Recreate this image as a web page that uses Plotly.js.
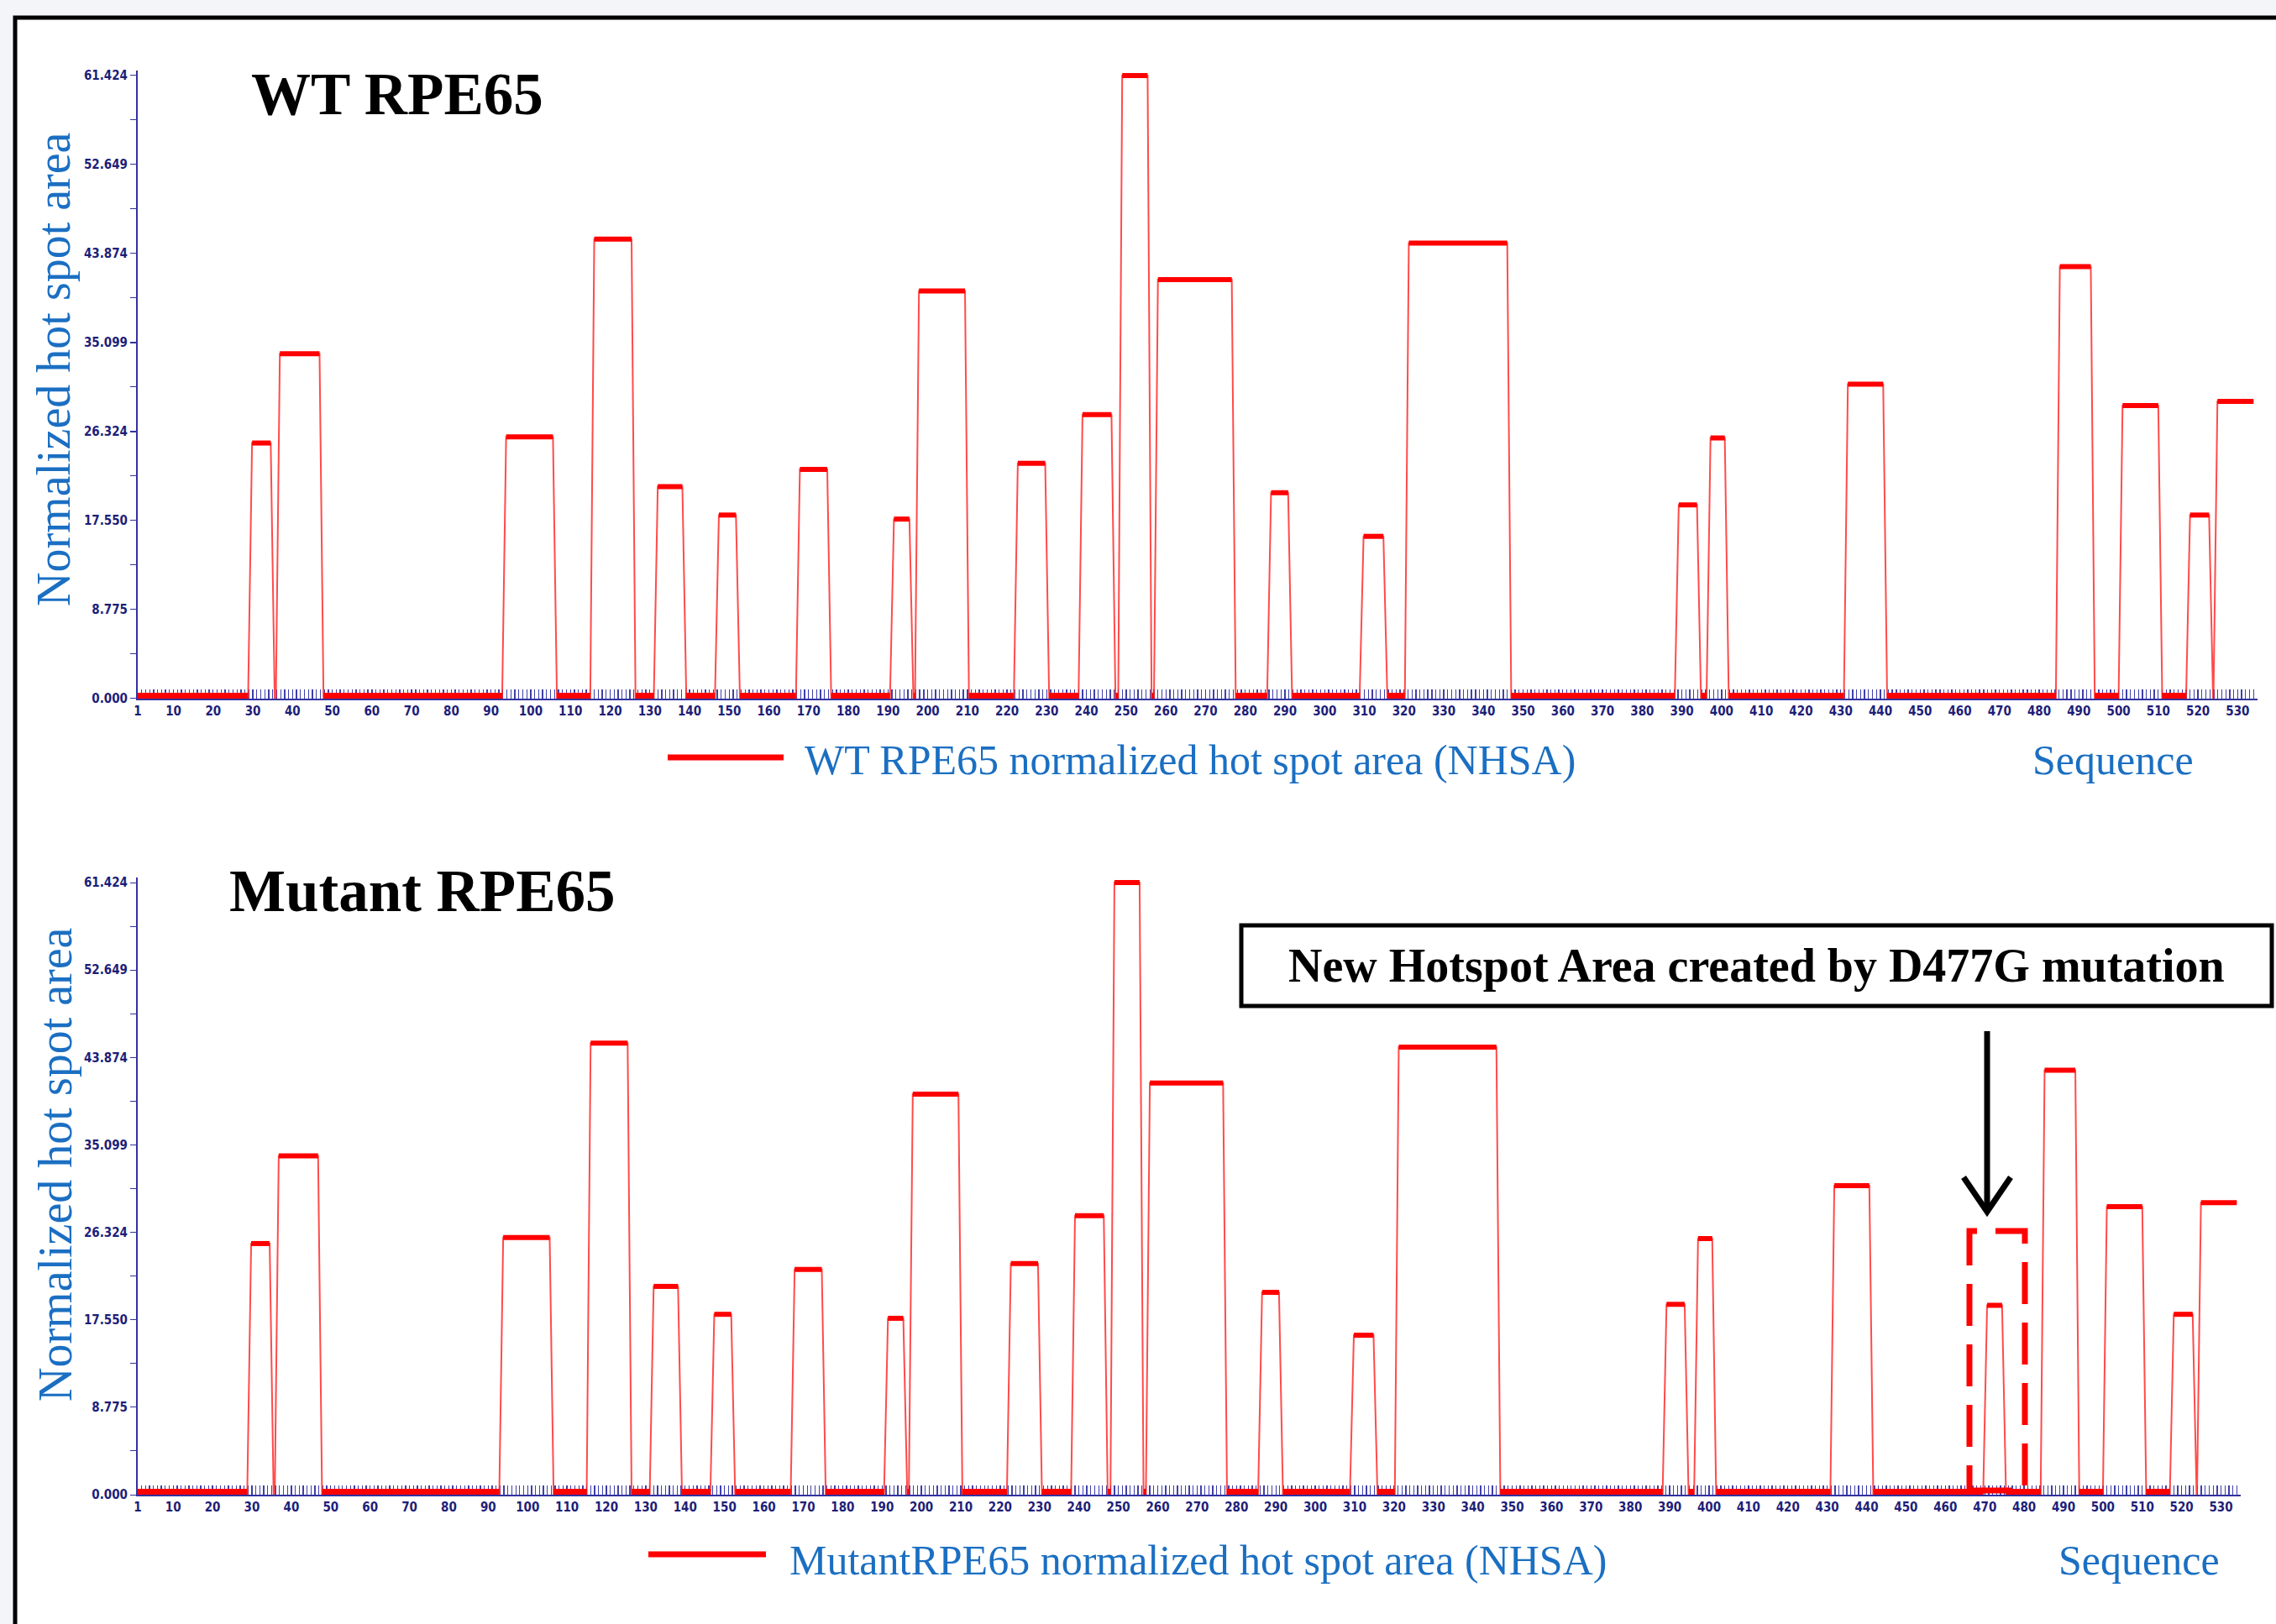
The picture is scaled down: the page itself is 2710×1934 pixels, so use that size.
<!DOCTYPE html>
<html><head><meta charset="utf-8">
<script src="https://cdn.plot.ly/plotly-3.0.1.min.js"></script>
<style>html,body{margin:0;padding:0;background:#f4f5f9;} #chart{width:2710px;height:1934px;}</style>
</head><body><div id="chart"></div>
<script>
// ---------- data ----------
const seqFirst = 1;
const seqLast = 534;

// WT RPE65 hot spot blocks: start residue, end residue, NHSA height
const wtStart  = [28.8, 35.8, 92.8, 115.0, 131.0, 146.4, 166.8, 190.5, 196.8, 221.7, 238.0, 248.0, 257.0, 285.5, 308.8, 320.2, 388.2, 396.2, 430.8, 484.2, 500.0, 517.0, 523.9];
const wtEnd    = [35.5, 47.8, 106.6, 126.4, 139.2, 152.7, 175.7, 196.4, 210.4, 230.6, 247.3, 256.4, 277.6, 291.8, 315.8, 347.0, 394.8, 401.8, 441.7, 494.0, 511.0, 523.8, 534];
const wtHeight = [25.2, 34.0, 25.8, 45.3, 20.9, 18.1, 22.6, 17.7, 40.2, 23.2, 28.0, 61.424, 41.3, 20.3, 16.0, 44.9, 19.1, 25.7, 31.0, 42.6, 28.9, 18.1, 29.3];

// Mutant RPE65 hot spot blocks (new block near D477G)
const mutStart  = [28.8, 35.8, 92.8, 115.0, 131.0, 146.4, 166.8, 190.5, 196.8, 221.7, 238.0, 248.0, 257.0, 285.5, 308.8, 320.2, 388.2, 396.2, 430.8, 469.6, 484.2, 500.0, 517.0, 523.9];
const mutEnd    = [35.5, 47.8, 106.6, 126.4, 139.2, 152.7, 175.7, 196.4, 210.4, 230.6, 247.3, 256.4, 277.6, 291.8, 315.8, 347.0, 394.8, 401.8, 441.7, 475.4, 494.0, 511.0, 523.8, 534];
const mutHeight = [25.2, 34.0, 25.8, 45.3, 20.9, 18.1, 22.6, 17.7, 40.2, 23.2, 28.0, 61.424, 41.3, 20.3, 16.0, 44.9, 19.1, 25.7, 31.0, 19.0, 42.6, 28.9, 18.1, 29.3];

const yTickVals = [0, 8.775, 17.550, 26.324, 35.099, 43.874, 52.649, 61.424];
const yTickText = ['0.000', '8.775', '17.550', '26.324', '35.099', '43.874', '52.649', '61.424'];
const xTickVals = [1,10,20,30,40,50,60,70,80,90,100,110,120,130,140,150,160,170,180,190,200,210,220,230,240,250,260,270,280,290,300,310,320,330,340,350,360,370,380,390,400,410,420,430,440,450,460,470,480,490,500,510,520,530];
const xTickText = xTickVals.map(String);

// ---------- helpers ----------
const W = 2710, H = 1934;
const X = p => p / W;
const Y = p => 1 - p / H;

function outline(st, en, h) {
  const xs = [seqFirst], ys = [0];
  for (let i = 0; i < st.length; i++) {
    xs.push(st[i], st[i] + 1); ys.push(0, h[i]);
    if (en[i] >= seqLast) { xs.push(seqLast); ys.push(h[i]); }
    else { xs.push(en[i] - 1, en[i]); ys.push(h[i], 0); }
  }
  if (en[en.length - 1] < seqLast) { xs.push(seqLast); ys.push(0); }
  return {xs, ys};
}
function tops(st, en, h) {
  const xs = [], ys = [];
  for (let i = 0; i < st.length; i++) {
    xs.push(st[i] + 1, en[i] >= seqLast ? seqLast : en[i] - 1, null);
    ys.push(h[i], h[i], null);
  }
  return {xs, ys};
}
function base(st, en) {
  const xs = [seqFirst, st[0], null], ys = [0, 0, null];
  for (let i = 0; i < st.length - 1; i++) {
    if (st[i + 1] - en[i] > 0.3) { xs.push(en[i], st[i + 1], null); ys.push(0, 0, null); }
  }
  const last = en[en.length - 1];
  if (last < seqLast) { xs.push(last, seqLast); ys.push(0, 0); }
  return {xs, ys};
}
function panelTraces(st, en, h, xa, ya) {
  const o = outline(st, en, h), t = tops(st, en, h), b = base(st, en);
  return [
    {x: o.xs, y: o.ys, xaxis: xa, yaxis: ya, type: 'scatter', mode: 'lines', line: {color: 'rgba(255,30,30,0.8)', width: 2}, hoverinfo: 'skip', showlegend: false},
    {x: b.xs, y: b.ys, xaxis: xa, yaxis: ya, type: 'scatter', mode: 'lines', line: {color: '#ff0000', width: 14}, hoverinfo: 'skip', showlegend: false},
    {x: t.xs, y: t.ys, xaxis: xa, yaxis: ya, type: 'scatter', mode: 'lines', line: {color: '#ff0000', width: 6}, hoverinfo: 'skip', showlegend: false}
  ];
}

const tickFont = {family: 'DejaVu Sans Condensed, Liberation Sans Narrow, DejaVu Sans, sans-serif', size: 15, color: '#1e1e78', weight: 'bold'};
const axisBlue = '#3232a0';

function xAxis(x0, x1, anchor) {
  return {
    domain: [X(x0), X(x1)], anchor: anchor, range: [1, 535],
    tickmode: 'array', tickvals: xTickVals, ticktext: xTickText, tickangle: 0,
    ticks: 'inside', ticklen: 11, tickwidth: 1, tickcolor: '#3838a4',
    minor: {tickmode: 'linear', tick0: 1, dtick: 1, ticks: 'inside', ticklen: 11, tickwidth: 1.3, tickcolor: '#4040aa'},
    showline: true, linecolor: axisBlue, linewidth: 2, showgrid: false, zeroline: false,
    layer: 'below traces', tickfont: tickFont, fixedrange: true
  };
}
function yAxis(py0, pyTop, anchor) {
  const per = (py0 - pyTop) / 61.424;
  const top = pyTop - (61.9 - 61.424) * per;
  return {
    domain: [Y(py0), Y(top)], anchor: anchor, range: [0, 61.9],
    tickmode: 'array', tickvals: yTickVals, ticktext: yTickText,
    ticks: 'outside', ticklen: 7, tickwidth: 1, tickcolor: axisBlue,
    minor: {tickmode: 'linear', tick0: 0, dtick: 4.38743, ticks: 'outside', ticklen: 7, tickwidth: 1, tickcolor: axisBlue},
    showline: true, linecolor: axisBlue, linewidth: 2, showgrid: false, zeroline: false,
    tickfont: tickFont, fixedrange: true
  };
}

const serif = 'Liberation Serif, Times New Roman, serif';
const blueText = '#1b6fc2';
function ann(text, px, py, size, o) {
  return Object.assign({text: text, xref: 'paper', yref: 'paper', x: X(px), y: Y(py), showarrow: false,
    xanchor: 'left', yanchor: 'middle', font: {family: serif, size: size, color: blueText}}, o || {});
}

const traces = [].concat(
  panelTraces(wtStart, wtEnd, wtHeight, 'x', 'y'),
  panelTraces(mutStart, mutEnd, mutHeight, 'x2', 'y2')
);

const layout = {
  width: W, height: H, margin: {l: 0, r: 0, t: 0, b: 0},
  paper_bgcolor: '#f4f5f9', plot_bgcolor: 'rgba(0,0,0,0)', showlegend: false,
  xaxis: xAxis(164, 2688, 'y'),
  yaxis: yAxis(832, 90, 'x'),
  xaxis2: xAxis(164, 2668, 'y2'),
  yaxis2: yAxis(1780, 1051, 'x2'),
  shapes: [
    {type: 'rect', xref: 'paper', yref: 'paper', x0: X(18), x1: X(2780), y0: Y(2010), y1: Y(21), fillcolor: '#ffffff', line: {color: '#000000', width: 5}, layer: 'below'},
    {type: 'line', xref: 'paper', yref: 'paper', x0: X(795), x1: X(933), y0: Y(902), y1: Y(902), line: {color: '#ff0000', width: 7}},
    {type: 'line', xref: 'paper', yref: 'paper', x0: X(772), x1: X(912), y0: Y(1851), y1: Y(1851), line: {color: '#ff0000', width: 7}},
    {type: 'rect', xref: 'paper', yref: 'paper', x0: X(1478), x1: X(2705), y0: Y(1198), y1: Y(1102), fillcolor: '#ffffff', line: {color: '#000000', width: 5}},
    {type: 'rect', xref: 'paper', yref: 'paper', x0: X(2345), x1: X(2411), y0: Y(1775), y1: Y(1466), line: {color: '#ff0000', width: 7, dash: '50px,22px'}},
    {type: 'line', xref: 'paper', yref: 'paper', x0: X(2366), x1: X(2366), y0: Y(1228), y1: Y(1440), line: {color: '#000000', width: 7}},
    {type: 'path', xref: 'paper', yref: 'paper', path: 'M ' + X(2338) + ',' + Y(1402) + ' L ' + X(2366) + ',' + Y(1443) + ' L ' + X(2394) + ',' + Y(1402), line: {color: '#000000', width: 7}}
  ],
  annotations: [
    ann('WT RPE65', 297, 112, 71, {font: {family: serif, size: 71, color: '#000000', weight: 'bold'}}),
    ann('Mutant RPE65', 271, 1061, 71, {font: {family: serif, size: 71, color: '#000000', weight: 'bold'}}),
    ann('Normalized hot spot area', 64, 440, 56, {textangle: -90, xanchor: 'center'}),
    ann('Normalized hot spot area', 66, 1387, 56, {textangle: -90, xanchor: 'center'}),
    ann('WT RPE65 normalized hot spot area (NHSA)', 956, 905, 50),
    ann('Sequence', 2516, 905, 50, {xanchor: 'center'}),
    ann('MutantRPE65 normalized hot spot area (NHSA)', 938, 1858, 50),
    ann('Sequence', 2547, 1858, 50, {xanchor: 'center'}),
    ann('New Hotspot Area created by D477G mutation', 2091, 1150, 56, {xanchor: 'center', font: {family: serif, size: 56, color: '#000000', weight: 'bold'}})
  ]
};

Plotly.newPlot('chart', traces, layout, {staticPlot: true});
</script></body></html>
